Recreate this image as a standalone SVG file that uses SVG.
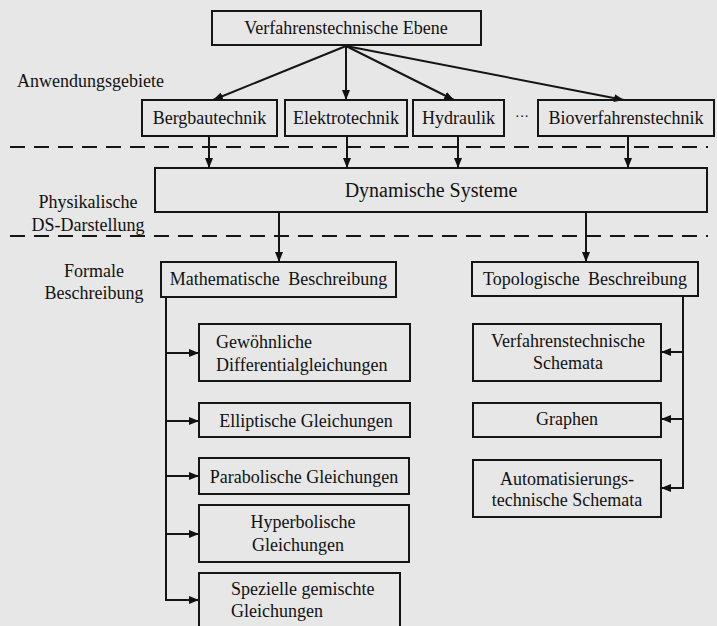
<svg xmlns="http://www.w3.org/2000/svg" width="717" height="626" viewBox="0 0 717 626">
  <defs>
    <marker id="arr" viewBox="0 0 10 8" refX="10" refY="4" markerWidth="10" markerHeight="8" markerUnits="userSpaceOnUse" orient="auto">
      <path d="M0,0 L10,4 L0,8 Z" fill="#111"/>
    </marker>
    <style>
      .box { fill: none; stroke: #151515; stroke-width: 2; }
      .t { font-family: "Liberation Serif", "Times New Roman", serif; font-size: 18px; fill: #111; }
      .m { text-anchor: middle; }
      .big { font-size: 20px; }
      .ln { fill: none; stroke: #151515; stroke-width: 2; }
      .ar { fill: none; stroke: #151515; stroke-width: 2; marker-end: url(#arr); }
      .dash { fill: none; stroke: #151515; stroke-width: 2; stroke-dasharray: 15 9; }
    </style>
  </defs>

  <rect width="717" height="626" fill="#e7e7e7"/>

  <!-- level separators -->
  <g id="separators">
    <line class="dash" x1="10" y1="147" x2="708" y2="147"/>
    <line class="dash" x1="10" y1="236" x2="708" y2="236"/>
  </g>

  <!-- level labels -->
  <g id="labels">
    <text class="t" x="17" y="87">Anwendungsgebiete</text>
    <text class="t m" x="88" y="208">Physikalische</text>
    <text class="t m" x="88" y="231">DS-Darstellung</text>
    <text class="t m" x="94" y="277">Formale</text>
    <text class="t m" x="94" y="299">Beschreibung</text>
  </g>

  <g id="connectors">
    <!-- top level to application areas -->
    <line class="ar" x1="346" y1="46" x2="213" y2="100"/>
    <line class="ar" x1="346" y1="46" x2="346" y2="100"/>
    <line class="ar" x1="346" y1="46" x2="454" y2="100"/>
    <line class="ar" x1="346" y1="46" x2="624" y2="100"/>
    <!-- application areas to dynamic systems -->
    <line class="ar" x1="209" y1="136" x2="209" y2="168"/>
    <line class="ar" x1="347" y1="136" x2="347" y2="168"/>
    <line class="ar" x1="458" y1="136" x2="458" y2="168"/>
    <line class="ar" x1="628" y1="136" x2="628" y2="168"/>
    <!-- dynamic systems to descriptions -->
    <line class="ar" x1="279" y1="212" x2="279" y2="262"/>
    <line class="ar" x1="586" y1="212" x2="586" y2="262"/>
    <!-- mathematical branch bus -->
    <line class="ln" x1="166" y1="297" x2="166" y2="601"/>
    <line class="ar" x1="166" y1="353" x2="199" y2="353"/>
    <line class="ar" x1="166" y1="421" x2="199" y2="421"/>
    <line class="ar" x1="166" y1="476" x2="199" y2="476"/>
    <line class="ar" x1="166" y1="534" x2="199" y2="534"/>
    <line class="ar" x1="166" y1="600" x2="199" y2="600"/>
    <!-- topological branch bus -->
    <line class="ln" x1="683" y1="296" x2="683" y2="489"/>
    <line class="ar" x1="683" y1="352" x2="661" y2="352"/>
    <line class="ar" x1="683" y1="419" x2="661" y2="419"/>
    <line class="ar" x1="683" y1="488" x2="661" y2="488"/>
  </g>

  <g id="ebene">
    <rect class="box" x="212" y="11" width="269" height="34"/>
    <text class="t m" x="346" y="34">Verfahrenstechnische Ebene</text>
  </g>

  <g id="bergbau">
    <rect class="box" x="142" y="100" width="135" height="36"/>
    <text class="t m" x="209.5" y="124">Bergbautechnik</text>
  </g>
  <g id="elektro">
    <rect class="box" x="285" y="100" width="122" height="36"/>
    <text class="t m" x="346" y="124">Elektrotechnik</text>
  </g>
  <g id="hydraulik">
    <rect class="box" x="413" y="100" width="91" height="36"/>
    <text class="t m" x="458.5" y="124">Hydraulik</text>
  </g>
  <g id="more">
    <text class="t m" x="522" y="121" style="font-size:14px">···</text>
  </g>
  <g id="bio">
    <rect class="box" x="538" y="100" width="176" height="36"/>
    <text class="t m" x="626" y="124">Bioverfahrenstechnik</text>
  </g>

  <g id="dynamisch">
    <rect class="box" x="155" y="168" width="552" height="44"/>
    <text class="t m big" x="431" y="197">Dynamische Systeme</text>
  </g>

  <g id="mathematisch">
    <rect class="box" x="161" y="262" width="235" height="35"/>
    <text class="t m" x="278.5" y="285" word-spacing="4">Mathematische Beschreibung</text>
  </g>
  <g id="topologisch">
    <rect class="box" x="472" y="262" width="226" height="34"/>
    <text class="t m" x="585" y="285" word-spacing="4">Topologische Beschreibung</text>
  </g>

  <g id="gewoehnlich">
    <rect class="box" x="199" y="324" width="211" height="57"/>
    <text class="t" x="216" y="348">Gewöhnliche</text>
    <text class="t" x="216" y="371">Differentialgleichungen</text>
  </g>
  <g id="elliptisch">
    <rect class="box" x="199" y="403" width="211" height="34"/>
    <text class="t m" x="306" y="427">Elliptische Gleichungen</text>
  </g>
  <g id="parabolisch">
    <rect class="box" x="199" y="458" width="210" height="36"/>
    <text class="t m" x="304" y="483">Parabolische Gleichungen</text>
  </g>
  <g id="hyperbolisch">
    <rect class="box" x="199" y="505" width="210" height="57"/>
    <text class="t m" x="303" y="528">Hyperbolische</text>
    <text class="t m" x="298" y="551">Gleichungen</text>
  </g>
  <g id="speziell">
    <rect class="box" x="199" y="573" width="201" height="60"/>
    <text class="t" x="231" y="595">Spezielle gemischte</text>
    <text class="t" x="231" y="617">Gleichungen</text>
  </g>

  <g id="vt-schemata">
    <rect class="box" x="473" y="324" width="188" height="57"/>
    <text class="t m" x="568" y="347">Verfahrenstechnische</text>
    <text class="t m" x="568" y="369">Schemata</text>
  </g>
  <g id="graphen">
    <rect class="box" x="473" y="403" width="188" height="34"/>
    <text class="t m" x="567" y="425">Graphen</text>
  </g>
  <g id="at-schemata">
    <rect class="box" x="473" y="460" width="188" height="57"/>
    <text class="t m" x="567" y="485">Automatisierungs-</text>
    <text class="t m" x="567" y="506">technische Schemata</text>
  </g>
</svg>
